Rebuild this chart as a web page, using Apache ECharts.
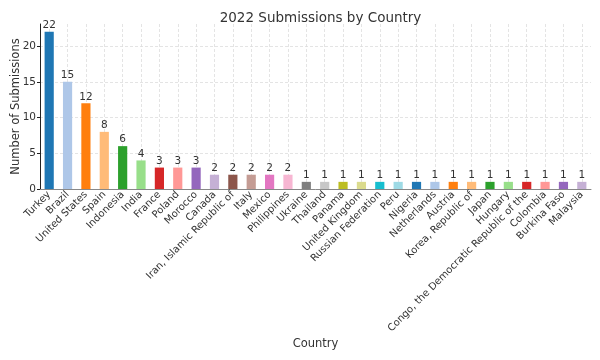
<!DOCTYPE html>
<html>
<head>
<meta charset="utf-8">
<script src="https://cdn.jsdelivr.net/npm/echarts@6/dist/echarts.min.js"></script>
<style>html,body{margin:0;padding:0;background:#fff}#c{width:600px;height:360px}</style>
</head>
<body>
<div id="c"></div>
<script>
const countries = ["Turkey","Brazil","United States","Spain","Indonesia","India","France","Poland","Morocco","Canada","Iran, Islamic Republic of","Italy","Mexico","Philippines","Ukraine","Thailand","Panama","United Kingdom","Russian Federation","Peru","Nigeria","Netherlands","Austria","Korea, Republic of","Japan","Hungary","Congo, the Democratic Republic of the","Colombia","Burkina Faso","Malaysia"];
const submissions = [22,15,12,8,6,4,3,3,3,2,2,2,2,2,1,1,1,1,1,1,1,1,1,1,1,1,1,1,1,1];
const palette = ["#1f77b4","#aec7e8","#ff7f0e","#ffbb78","#2ca02c","#98df8a","#d62728","#ff9896","#9467bd","#c5b0d5","#8c564b","#c49c94","#e377c2","#f7b6d2","#7f7f7f","#c7c7c7","#bcbd22","#dbdb8d","#17becf","#9edae5"];
const yTicks = [0,5,10,15,20];

const font = "DejaVu Sans";
const textColor = "#333";
const chart = echarts.init(document.getElementById('c'), null, {renderer:'canvas'});
chart.setOption({
  animation:false,
  textStyle:{fontFamily:font},
  title:{text:"2022 Submissions by Country", left:315.5, top:6, textAlign:'center',
    textStyle:{fontFamily:font,fontSize:13.5,fontWeight:'normal',color:textColor}},
  grid:{left:40,right:9,top:24,bottom:171,containLabel:false,outerBoundsMode:'none'},
  xAxis:{type:'category', data:countries, name:'Country', nameLocation:'middle', nameGap:149, nameMoveOverlap:false,
    nameTextStyle:{fontFamily:font,fontSize:11.5,color:textColor},
    axisLine:{lineStyle:{color:'#888',width:1}},
    axisTick:{show:true,alignWithLabel:true,inside:true,length:3,lineStyle:{color:'#444'}},
    axisLabel:{rotate:45,interval:0,fontFamily:font,fontSize:10,color:textColor,margin:4},
    splitLine:{show:true,alignWithLabel:true,lineStyle:{color:'#ddd',type:[3,2],width:0.8}}
  },
  yAxis:{type:'value', min:0, max:23.1, interval:5, name:'Number of Submissions', nameLocation:'middle', nameGap:18, nameMoveOverlap:false,
    nameTextStyle:{fontFamily:font,fontSize:11.5,color:textColor},
    axisLine:{show:true,lineStyle:{color:'#222',width:1}},
    axisTick:{show:true,length:3,lineStyle:{color:'#222'}},
    axisLabel:{fontFamily:font,fontSize:10.5,color:textColor,margin:4,showMaxLabel:false,
      formatter:v=>yTicks.includes(v)?String(v):''},
    splitLine:{show:true,showMaxLine:false,lineStyle:{color:'#ddd',type:[3,2],width:0.8}}
  },
  series:[{type:'bar', barWidth:'50%',
    data:submissions.map((v,i)=>({value:v,itemStyle:{color:palette[i%palette.length]}})),
    label:{show:true,position:'top',distance:1,fontFamily:font,fontSize:10.5,color:textColor}
  }]
});
</script>
</body>
</html>
